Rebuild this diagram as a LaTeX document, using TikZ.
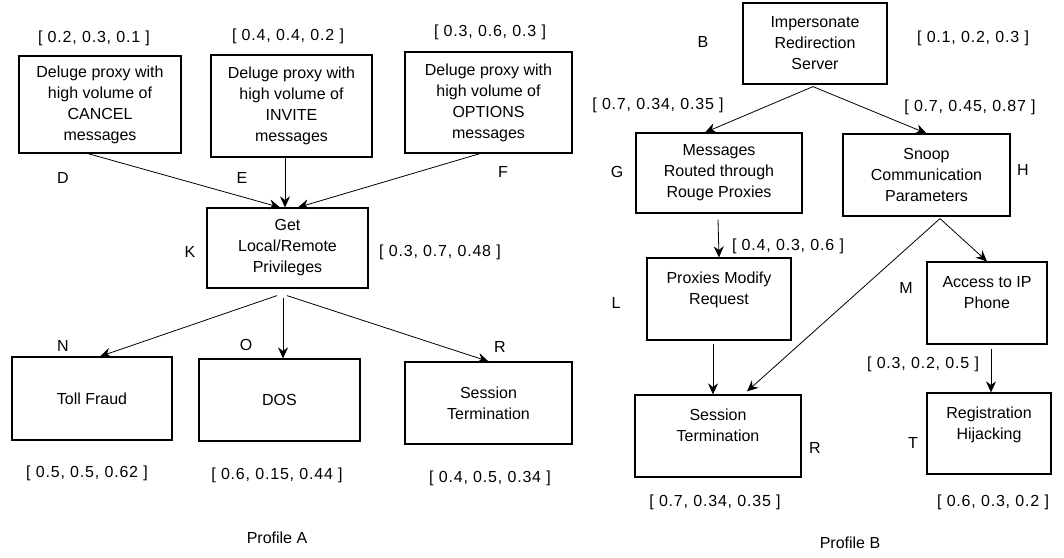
\documentclass[tikz,border=0pt]{standalone}
\usepackage{fontspec}
\setmainfont{Liberation Sans}
\usetikzlibrary{arrows.meta}

\begin{document}
\begin{tikzpicture}[x=1pt, y=-1pt, font=\fontsize{16}{21}\selectfont,
    box/.style={draw, line width=1.2pt, align=center, inner sep=0pt},
    val/.style={font=\fontsize{16}{21}\selectfont\addfontfeatures{LetterSpace=5}},
    link/.style={-{Stealth[length=11pt, width=10pt]}, line width=0.8pt}]
    \useasboundingbox (0,0) rectangle (1064,557);

    % Profile A: deluge attacks on the proxy
    \node[val] (valD) at (94,38) {[ 0.2, 0.3, 0.1 ]};
    \node[val] (valE) at (288,36) {[ 0.4, 0.4, 0.2 ]};
    \node[val] (valF) at (490,32) {[ 0.3, 0.6, 0.3 ]};
    \node[box, minimum width=162, minimum height=97] (D) at (100,104.5) {Deluge proxy with\\high volume of\\CANCEL\\messages};
    \node[box, minimum width=161, minimum height=102] (E) at (291.5,106) {Deluge proxy with\\high volume of\\INVITE\\messages};
    \node[box, minimum width=167, minimum height=101] (F) at (488.5,102.5) {Deluge proxy with\\high volume of\\OPTIONS\\messages};
    \node (labD) at (63,178) {D};
    \node (labE) at (242,178) {E};
    \node (labF) at (503,172) {F};

    % Privileges in the middle
    \node[box, minimum width=161, minimum height=80] (K) at (287.5,248) {Get\\Local/Remote\\Privileges};
    \node (labK) at (190,252) {K};
    \node[val] (valK) at (440,252) {[ 0.3, 0.7, 0.48 ]};

    \draw[link] ([xshift=-12]D.south) -- ([xshift=-7.5]K.north);
    \draw[link] ([xshift=-6.5]E.south) -- ([xshift=-2.5]K.north);
    \draw[link] ([xshift=-8.5]F.south) -- ([xshift=10.5]K.north);

    % Profile A: outcomes
    \node[box, minimum width=160, minimum height=83] (N) at (92,398.5) {Toll Fraud};
    \node[box, minimum width=161, minimum height=82] (O) at (279.5,400) {DOS};
    \node[box, minimum width=167, minimum height=82] (Ra) at (488.5,403) {Session\\Termination};
    \node (labN) at (63,346) {N};
    \node (labO) at (246,345) {O};
    \node (labRa) at (500,347) {R};
    \node[val] (valN) at (87,473) {[ 0.5, 0.5, 0.62 ]};
    \node[val] (valO) at (277,475) {[ 0.6, 0.15, 0.44 ]};
    \node[val] (valRa) at (490,478) {[ 0.4, 0.5, 0.34 ]};

    \draw[link] ([xshift=-10.5, yshift=-7]K.south) -- ([xshift=8]N.north);
    \draw[link] ([xshift=-4.5, yshift=-9]K.south) -- ([xshift=3.5]O.north);
    \draw[link] ([xshift=-0.5, yshift=-7]K.south) -- (Ra.north);

    \node (capA) at (277,538) {Profile A};

    % Profile B: redirection server on top
    \node[box, minimum width=144, minimum height=81] (B) at (815,43.5) {Impersonate\\Redirection\\Server};
    \node (labB) at (703,42) {B};
    \node[val] (valB) at (973,38) {[ 0.1, 0.2, 0.3 ]};
    \node[val] (valG) at (658,105) {[ 0.7, 0.34, 0.35 ]};
    \node[val] (valH) at (970,107) {[ 0.7, 0.45, 0.87 ]};

    \node[box, minimum width=166, minimum height=80] (G) at (719,173) {Messages\\Routed through\\Rouge Proxies};
    \node[box, minimum width=167, minimum height=82] (H) at (926.5,175) {Snoop\\Communication\\Parameters};
    \node (labG) at (617,172) {G};
    \node (labH) at (1023,170) {H};

    \draw[link] ([xshift=-2, yshift=-2]B.south) -- ([xshift=-14]G.north);
    \draw[link] ([xshift=-2, yshift=-2]B.south) -- (H.north);

    % Profile B: second level
    \node[box, minimum width=144, minimum height=82] (L) at (719,299) {Proxies Modify\\Request\\~};
    \node[box, minimum width=120, minimum height=82] (M) at (987,303) {Access to IP\\Phone\\~};
    \node (labL) at (616,303) {L};
    \node (labM) at (906,288) {M};
    \node[val] (valL) at (788,246) {[ 0.4, 0.3, 0.6 ]};
    \node[val] (valM) at (923,364) {[ 0.3, 0.2, 0.5 ]};

    \draw[link] ([xshift=-1, yshift=-6]G.south) -- (L.north);
    \draw[link] ([xshift=13.5, yshift=-2]H.south) -- (M.north);

    % Profile B: outcomes
    \node[box, minimum width=166, minimum height=82] (Rb) at (718,436) {Session\\Termination\\~};
    \node[box, minimum width=124, minimum height=81] (T) at (989,433.5) {Registration\\Hijacking\\~};
    \node (labRb) at (815,448) {R};
    \node (labT) at (913,443) {T};
    \node[val] (valRb) at (715,502) {[ 0.7, 0.34, 0.35 ]};
    \node[val] (valT) at (993,502) {[ 0.6, 0.3, 0.2 ]};

    \draw[link] ([xshift=-6, yshift=-3]L.south) -- ([xshift=-5]Rb.north);
    \draw[link] ([xshift=13.5, yshift=-2]H.south) -- ([xshift=29, yshift=3]Rb.north);
    \draw[link] ([xshift=4, yshift=-4]M.south) -- ([xshift=2]T.north);

    \node (capB) at (850,543) {Profile B};

\end{tikzpicture}
\end{document}
